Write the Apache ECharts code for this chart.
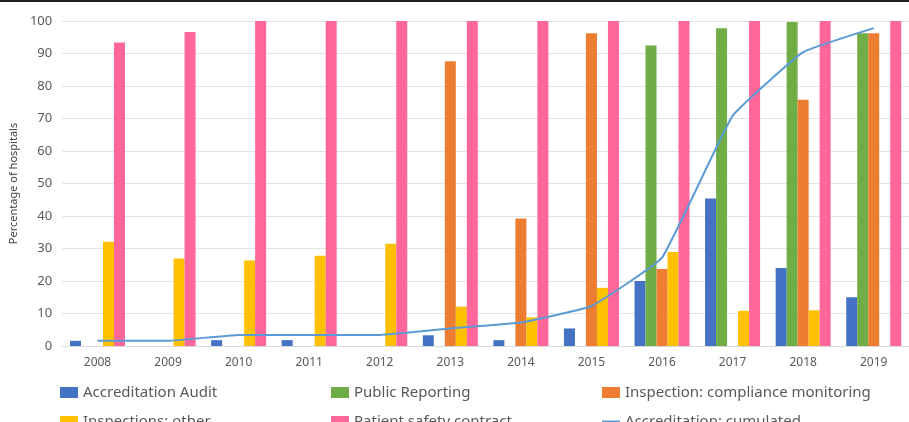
<!DOCTYPE html>
<html><head><meta charset="utf-8">
<script src="https://cdn.jsdelivr.net/npm/echarts@6/dist/echarts.min.js"></script>
<style>html,body{margin:0;padding:0;background:#fff}#c{width:909px;height:422px}</style>
</head><body><div id="c"></div>
<script>
const years = ['2008','2009','2010','2011','2012','2013','2014','2015','2016','2017','2018','2019'];
const accreditationAudit = [1.6, null, 1.8, 1.8, null, 3.3, 1.8, 5.4, 20, 45.4, 24, 15];
const publicReporting = [null, null, null, null, null, null, null, null, 92.5, 97.8, 99.7, 96.2];
const complianceMonitoring = [null, null, null, null, null, 87.6, 39.2, 96.2, 23.7, null, 75.8, 96.2];
const inspectionsOther = [32.1, 26.9, 26.3, 27.8, 31.5, 12.1, 8.8, 17.9, 28.9, 10.8, 11, null];
const patientSafety = [93.4, 96.6, 100, 100, 100, 100, 100, 100, 100, 100, 100, 100];
const accreditationCumulated = [1.6, 1.6, 3.4, 3.4, 3.4, 5.4, 7.2, 12.3, 27.2, 70.8, 90.4, 97.8];
const yTicks = [0, 10, 20, 30, 40, 50, 60, 70, 80, 90, 100];

const chart = echarts.init(document.getElementById('c'));
const FONT = 'Noto Sans';
const legendText = {color:'#595959', fontSize:15, fontFamily:FONT};
function bar(name, data, color){
  return {name, type:'bar', data, barWidth:11, barGap:'0%', itemStyle:{color}, animation:false};
}
function leg(name, left, top, line){
  return {left, top, itemWidth:18, itemHeight: line ? 2 : 11, textStyle:legendText,
    icon:'rect', data:[name]};
}
chart.setOption({
  animation:false,
  grid:{left:60, top:21, width:857, height:325, containLabel:false},
  xAxis:{type:'category', data:years,
    axisLine:{lineStyle:{color:'#d9d9d9'}}, axisTick:{show:false},
    axisLabel:{color:'#595959', fontSize:12, fontFamily:FONT, margin:11}},
  yAxis:{type:'value', min:0, max:100, interval:10,
    name:'Percentage of hospitals', nameLocation:'middle', nameGap:36, nameRotate:90,
    nameTextStyle:{color:'#404040', fontSize:11, fontFamily:FONT},
    axisLabel:{color:'#595959', fontSize:13, fontFamily:FONT, margin:10,
      formatter:v=>yTicks.includes(v)?String(v):''},
    splitLine:{lineStyle:{color:'#e3e3e3'}}, axisLine:{show:false}, axisTick:{show:false}},
  legend:[
    leg('Accreditation Audit', 55, 380),
    leg('Public Reporting', 326, 380),
    leg('Inspection: compliance monitoring', 597, 380),
    leg('Inspections: other', 55, 409),
    leg('Patient safety contract', 326, 409),
    leg('Accreditation: cumulated', 597, 409, true)
  ],
  graphic:[{type:'rect', shape:{x:0,y:0,width:909,height:2}, style:{fill:'#222'}}],
  series:[
    bar('Accreditation Audit', accreditationAudit, '#4472C4'),
    bar('Public Reporting', publicReporting, '#70AD47'),
    bar('Inspection: compliance monitoring', complianceMonitoring, '#ED7D31'),
    bar('Inspections: other', inspectionsOther, '#FFC000'),
    bar('Patient safety contract', patientSafety, '#FF6699'),
    {name:'Accreditation: cumulated', type:'line', data:accreditationCumulated, symbol:'none',
      smooth:0.1, lineStyle:{color:'#5B9BD5', width:2}, itemStyle:{color:'#5B9BD5'}, z:5}
  ]
});
</script></body></html>
